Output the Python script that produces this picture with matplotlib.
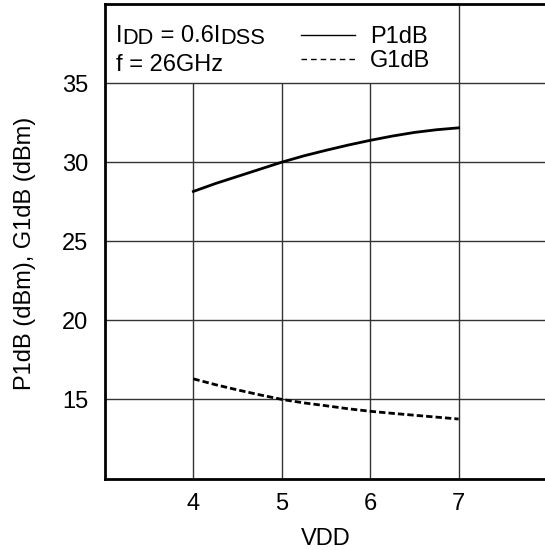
import matplotlib
matplotlib.use("Agg")
from matplotlib import pyplot as plt

# P1dB / G1dB versus drain voltage at IDD = 0.6 IDSS, f = 26 GHz
vdd = [4.0, 4.25, 4.5, 4.75, 5.0, 5.25, 5.5, 5.75, 6.0, 6.25, 6.5, 6.75, 7.0]
p1db = [28.15, 28.65, 29.1, 29.55, 30.0, 30.4, 30.75, 31.08, 31.38, 31.65,
        31.88, 32.05, 32.17]
g1db = [16.3, 15.93, 15.6, 15.29, 15.0, 14.78, 14.6, 14.41, 14.25, 14.12,
        14.0, 13.88, 13.76]

x_ticks = [4, 5, 6, 7]
y_ticks = [15, 20, 25, 30, 35]
series_names = ["P1dB", "G1dB"]

plt.rcParams["font.family"] = ["Liberation Sans", "DejaVu Sans"]
fs = 17
sub_fs = fs * 0.92
DESC = 0.212  # descender of Liberation Sans, in em

solid = "-"
dashed = (0, (2.3, 1.1))

fig = plt.figure(figsize=(5.45, 5.5), dpi=100)
ax = fig.add_axes([105 / 545, 1 - 478.5 / 550, 442 / 545, 474.5 / 550])
ax.set_xlim(3, 8)
ax.set_ylim(10, 40)

# grid: vertical lines stop under the legend band except the one at 7
grid_kw = dict(color="#333333", lw=1.0, zorder=1)
ax.hlines(y_ticks, 3, 8, **grid_kw)
ax.vlines(x_ticks[:-1], 10, y_ticks[-1], **grid_kw)
ax.vlines(x_ticks[-1], 10, 40, **grid_kw)

ax.plot(vdd, p1db, color="black", lw=2.0, ls=solid, zorder=3)
ax.plot(vdd, g1db, color="black", lw=2.0, ls=dashed, zorder=3)

ax.set_xticks(x_ticks)
ax.set_yticks(y_ticks)
ax.tick_params(length=0, labelsize=fs)
ax.tick_params(axis="x", pad=10.5)
ax.tick_params(axis="y", pad=12)
ax.set_xlabel("VDD", fontsize=fs, labelpad=9)
ax.set_ylabel("P1dB (dBm), G1dB (dBm)", fontsize=fs)
ax.yaxis.set_label_coords(-0.156, 0.475)

for side in ["left", "bottom", "top"]:
    ax.spines[side].set_linewidth(2.0)
ax.spines["right"].set_visible(False)


def chain_text(parts, x, y):
    """Write (text, size, drop in pt) pieces one after another on a line."""
    prev = None
    prev_drop = 0.0
    prev_size = fs
    for s, size, drop in parts:
        if prev is None:
            prev = ax.text(x, y, s, transform=ax.transAxes, fontsize=size,
                           va="baseline", ha="left")
        else:
            # previous bbox bottom sits at -(prev_drop + descent) from the line baseline
            dy = (prev_drop + DESC * prev_size) - drop
            prev = ax.annotate(s, xy=(1, 0), xycoords=prev, xytext=(0, dy),
                               textcoords="offset points", fontsize=size,
                               va="baseline", ha="left")
        prev_drop = drop
        prev_size = size
    return prev


chain_text([("I", fs, 0), ("DD", sub_fs, 1.2), (" = 0.6I", fs, 0),
            ("DSS", sub_fs, 1.2)], 0.025, 0.92)
ax.text(0.025, 0.858, "f = 26GHz", transform=ax.transAxes, fontsize=fs,
        va="baseline", ha="left")

# line key for the two curves
for name, style, ky, ty in zip(series_names, [solid, (0, (4, 2.9))],
                               [0.935, 0.884], [0.918, 0.867]):
    ax.plot([0.443, 0.565], [ky, ky], transform=ax.transAxes, color="black",
            lw=1.0, ls=style, clip_on=False)
    ax.text(0.600, ty, name, transform=ax.transAxes, fontsize=fs,
            va="baseline", ha="left")

fig.savefig("out.png", dpi=100)
